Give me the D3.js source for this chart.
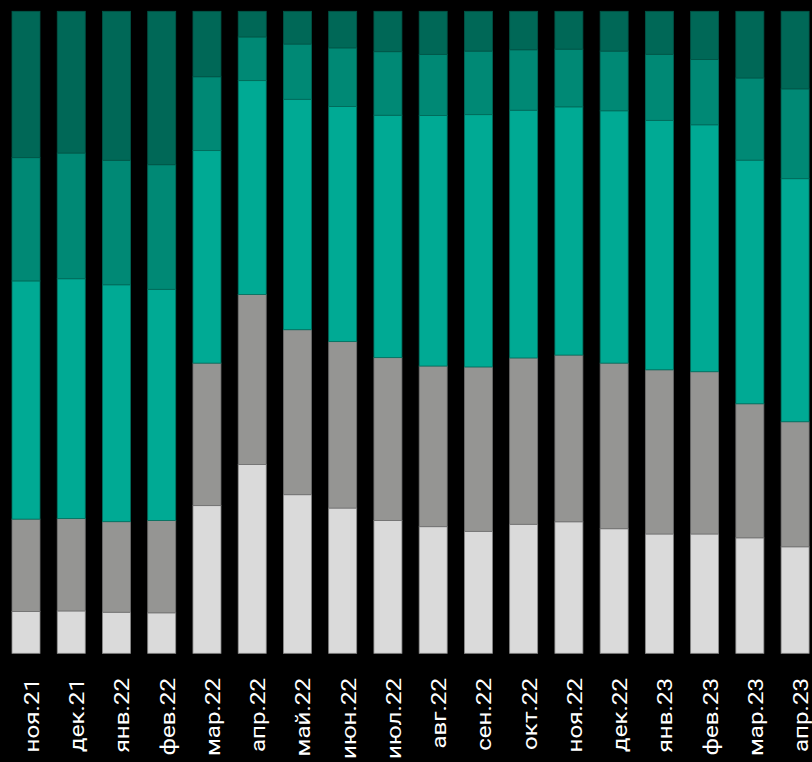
<!DOCTYPE html>
<html>
<head>
<meta charset="utf-8">
<script src="https://cdn.jsdelivr.net/npm/d3@7"></script>
<style>
  html, body { margin: 0; padding: 0; background: #000; }
  svg { display: block; }
</style>
</head>
<body>
<svg id="chart"></svg>
<script>
// months on the x axis
const months = ["ноя.21", "дек.21", "янв.22", "фев.22", "мар.22", "апр.22", "май.22", "июн.22", "июл.22",
    "авг.22", "сен.22", "окт.22", "ноя.22", "дек.22", "янв.23", "фев.23", "мар.23", "апр.23"];

// shares per month, bottom to top (percent)
const seriesA = [6.5, 6.6, 6.4, 6.3, 23.0, 29.4, 24.7, 22.6, 20.7, 19.7, 19.0, 20.1, 20.5, 19.4, 18.6, 18.6, 18.0, 16.6];
const seriesB = [14.4, 14.4, 14.1, 14.4, 22.2, 26.5, 25.7, 25.9, 25.4, 25.0, 25.6, 25.9, 26.0, 25.8, 25.6, 25.3, 20.9, 19.5];
const seriesC = [37.1, 37.4, 36.9, 36.0, 33.1, 33.3, 35.9, 36.6, 37.8, 39.0, 39.3, 38.6, 38.7, 39.3, 38.9, 38.5, 38.0, 37.9];
const seriesD = [19.2, 19.6, 19.4, 19.4, 11.5, 6.8, 8.6, 9.1, 9.9, 9.5, 9.9, 9.4, 9.0, 9.3, 10.3, 10.2, 12.8, 14.0];
const seriesE = [22.8, 22.1, 23.2, 23.9, 10.2, 4.0, 5.1, 5.7, 6.3, 6.7, 6.2, 6.0, 5.9, 6.2, 6.7, 7.5, 10.4, 12.1];

const keys = ["a", "b", "c", "d", "e"];
const fills = ["#dadada", "#959593", "#00aa94", "#008975", "#006857"];
const strokes = ["#8c8c8c", "#707070", "#00705f", "#006a5a", "#005446"];

const width = 812, height = 762;
const plotTop = 11.3, plotBottom = 653.3;

const rows = months.map((m, i) => ({
    month: m,
    a: seriesA[i], b: seriesB[i], c: seriesC[i], d: seriesD[i], e: seriesE[i]
}));

const stacked = d3.stack().keys(keys).offset(d3.stackOffsetExpand)(rows);

const svg = d3.select("#chart")
    .attr("width", width)
    .attr("height", height);

svg.append("rect")
    .attr("width", width)
    .attr("height", height)
    .attr("fill", "#000");

const x = d3.scaleBand()
    .domain(months)
    .range([3.4, 817.7])
    .paddingInner(0.381)
    .paddingOuter(0.19);

const y = d3.scaleLinear()
    .domain([0, 1])
    .range([plotBottom, plotTop]);

const layers = svg.append("g")
    .selectAll("g")
    .data(stacked)
    .join("g")
    .attr("fill", (d, i) => fills[i])
    .attr("stroke", (d, i) => strokes[i])
    .attr("stroke-width", 0.8);

layers.selectAll("rect")
    .data(d => d)
    .join("rect")
    .attr("x", d => x(d.data.month))
    .attr("width", x.bandwidth())
    .attr("y", d => y(d[1]))
    .attr("height", d => y(d[0]) - y(d[1]));

// rotated month labels (glyphs look stretched along the text in the original)
svg.append("g")
    .selectAll("text")
    .data(months)
    .join("text")
    .attr("transform", d => `translate(${x(d) + x.bandwidth() / 2}, 678) rotate(-90) scale(1.15, 1)`)
    .attr("x", 0)
    .attr("y", 13)
    .attr("text-anchor", "end")
    .attr("fill", "#fff")
    .style("font-family", "Roboto, sans-serif")
    .style("font-size", "21px")
    .text(d => d);
</script>
</body>
</html>
